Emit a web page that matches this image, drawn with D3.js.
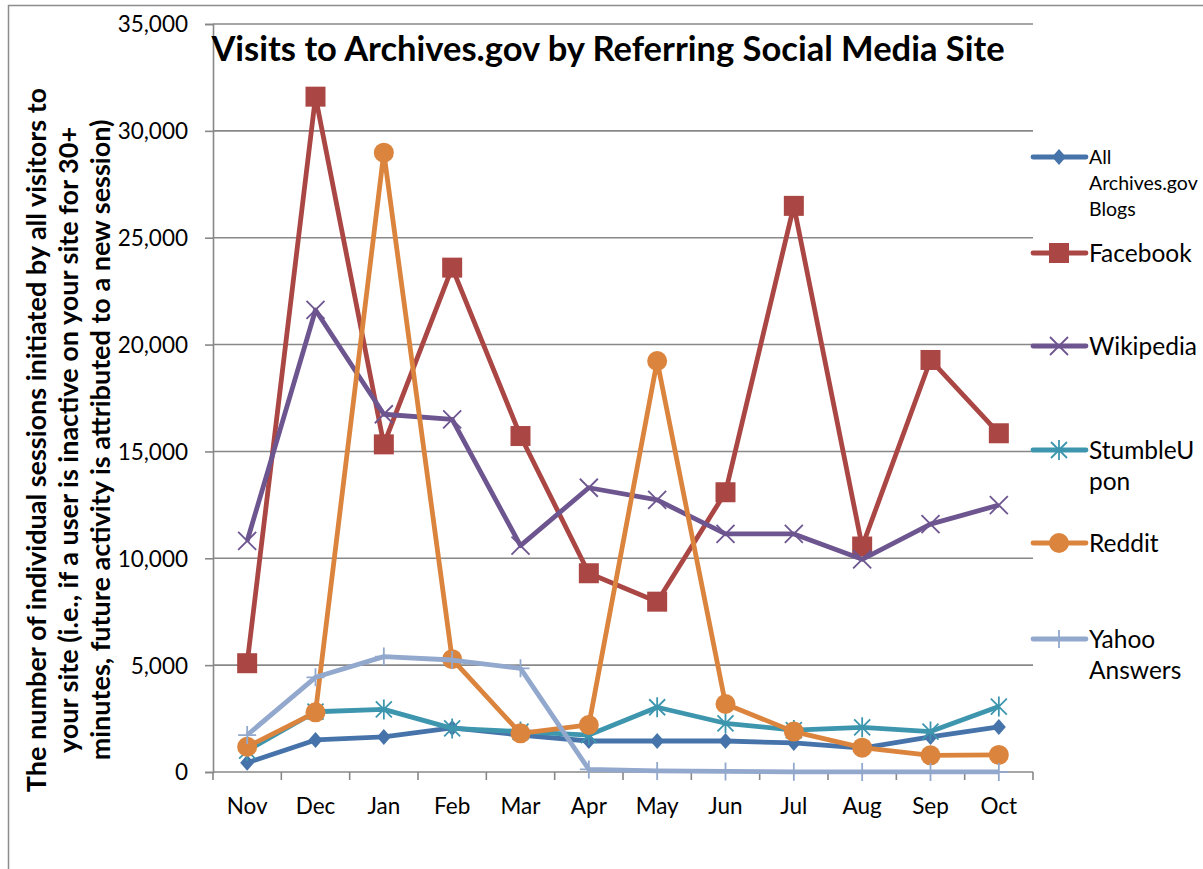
<!DOCTYPE html>
<html>
<head>
<meta charset="utf-8">
<script src="https://cdn.jsdelivr.net/npm/d3@7/dist/d3.min.js"></script>
<style>
  body { margin: 0; background: #fff; }
  text { font-family: Lato, "Open Sans", sans-serif; fill: #000; }
</style>
</head>
<body>
<script>
// data
var months = ["Nov", "Dec", "Jan", "Feb", "Mar", "Apr", "May", "Jun", "Jul", "Aug", "Sep", "Oct"];
var blogs = [435, 1500, 1640, 2060, 1730, 1450, 1450, 1450, 1360, 1120, 1640, 2110];
var facebook = [5090, 31600, 15330, 23600, 15720, 9300, 7970, 13090, 26490, 10550, 19280, 15850];
var wikipedia = [10810, 21620, 16740, 16500, 10590, 13300, 12730, 11140, 11140, 9950, 11600, 12490];
var stumbleupon = [1000, 2820, 2930, 2040, 1890, 1730, 3030, 2280, 1960, 2090, 1890, 3060];
var reddit = [1180, 2790, 28980, 5280, 1810, 2200, 19230, 3180, 1890, 1140, 780, 800];
var yahoo = [1730, 4430, 5400, 5240, 4850, 120, 50, 25, 10, 5, 5, 5];
var yTicks = [0, 5000, 10000, 15000, 20000, 25000, 30000, 35000];

var series = [
  {name: ["All", "Archives.gov", "Blogs"], values: blogs, color: "#4674AA", marker: "diamond", small: true},
  {name: ["Facebook"], values: facebook, color: "#AA4643", marker: "square"},
  {name: ["Wikipedia"], values: wikipedia, color: "#6D5590", marker: "x"},
  {name: ["StumbleU", "pon"], values: stumbleupon, color: "#3D96AE", marker: "star"},
  {name: ["Reddit"], values: reddit, color: "#DB843D", marker: "circle"},
  {name: ["Yahoo", "Answers"], values: yahoo, color: "#92A8CD", marker: "plus"}
];
var legendY = [157, 253, 346, 450, 543, 639];

var W = 1203, H = 869;
var plotLeft = 213, plotRight = 1033, plotTop = 24, plotBottom = 772;

var svg = d3.select("body").append("svg")
  .attr("width", W)
  .attr("height", H);

// chart area border (runs off the page right and bottom)
svg.append("rect")
  .attr("x", 8.5).attr("y", 5.5)
  .attr("width", 1400).attr("height", 1000)
  .attr("fill", "none")
  .attr("stroke", "#8c8c8c")
  .attr("stroke-width", 1.5);

var x = d3.scaleBand().domain(months).range([plotLeft, plotRight]);
var y = d3.scaleLinear().domain([0, 35000]).range([plotBottom, plotTop]);

// gridlines
svg.append("g").selectAll("line")
  .data(yTicks)
  .enter().append("line")
  .attr("x1", plotLeft).attr("x2", plotRight)
  .attr("y1", function(d) { return y(d); })
  .attr("y2", function(d) { return y(d); })
  .attr("stroke", "#888")
  .attr("stroke-width", 1.6);

// y axis
var yAxis = svg.append("g")
  .attr("transform", "translate(" + plotLeft + ",0)")
  .call(d3.axisLeft(y).tickValues(yTicks).tickFormat(d3.format(",")).tickSize(8).tickPadding(17));
yAxis.select(".domain").attr("stroke", "#888").attr("stroke-width", 1.6);
yAxis.selectAll(".tick line").attr("stroke", "#888").attr("stroke-width", 1.6);
yAxis.selectAll(".tick text")
  .attr("font-size", 22.5)
  .attr("font-family", "Lato")
  .attr("dy", "0.35em");

// x axis: ticks between categories
var bounds = months.map(function(m) { return x(m); }).concat([plotRight]);
svg.append("g").selectAll("line")
  .data(bounds)
  .enter().append("line")
  .attr("x1", function(d) { return d; })
  .attr("x2", function(d) { return d; })
  .attr("y1", plotBottom).attr("y2", plotBottom + 8)
  .attr("stroke", "#888")
  .attr("stroke-width", 1.6);

svg.append("g").selectAll("text")
  .data(months)
  .enter().append("text")
  .attr("x", function(d) { return x(d) + x.bandwidth() / 2; })
  .attr("y", 814)
  .attr("text-anchor", "middle")
  .attr("font-size", 22.5)
  .text(function(d) { return d; });

// marker shapes
function markerPath(type) {
  if (type === "diamond") return "M0,-8L7,0L0,8L-7,0Z";
  if (type === "square") return "M-10,-10H10V10H-10Z";
  if (type === "circle") return d3.symbol(d3.symbolCircle, Math.PI * 100)();
  if (type === "x") return "M-9,-9L9,9M-9,9L9,-9";
  if (type === "star") return "M-8,-8L8,8M-8,8L8,-8M0,-10V10";
  if (type === "plus") return "M-9,0H9M0,-9V9";
}
function drawMarker(g, s) {
  var filled = s.marker === "diamond" || s.marker === "square" || s.marker === "circle";
  g.append("path")
    .attr("d", markerPath(s.marker))
    .attr("fill", filled ? s.color : "none")
    .attr("stroke", s.color)
    .attr("stroke-width", filled ? 0 : 1.8);
}

var line = d3.line()
  .x(function(d, i) { return x(months[i]) + x.bandwidth() / 2; })
  .y(function(d) { return y(d); });

series.forEach(function(s) {
  var g = svg.append("g");
  g.append("path")
    .datum(s.values)
    .attr("d", line)
    .attr("fill", "none")
    .attr("stroke", s.color)
    .attr("stroke-width", 4.8)
    .attr("stroke-linejoin", "round");
  g.selectAll("g.pt")
    .data(s.values)
    .enter().append("g")
    .attr("class", "pt")
    .attr("transform", function(d, i) {
      return "translate(" + (x(months[i]) + x.bandwidth() / 2) + "," + y(d) + ")";
    })
    .each(function() { drawMarker(d3.select(this), s); });
});

// legend
series.forEach(function(s, i) {
  var ly = legendY[i];
  var g = svg.append("g");
  g.append("line")
    .attr("x1", 1033).attr("x2", 1086)
    .attr("y1", ly).attr("y2", ly)
    .attr("stroke", s.color)
    .attr("stroke-width", 4.8)
    .attr("stroke-linecap", "round");
  var m = g.append("g").attr("transform", "translate(1059," + ly + ")");
  drawMarker(m, s);
  var fs = s.small ? 19.5 : 24.5;
  var lh = s.small ? 26 : 31;
  s.name.forEach(function(t, k) {
    g.append("text")
      .attr("x", 1089)
      .attr("y", ly + k * lh)
      .attr("dy", "0.35em")
      .attr("font-size", fs)
      .text(t);
  });
});

// title
svg.append("text")
  .attr("x", 608)
  .attr("y", 61)
  .attr("text-anchor", "middle")
  .attr("font-size", 34.5)
  .attr("font-weight", "bold")
  .text("Visits to Archives.gov by Referring Social Media Site");

// y axis title
var yTitle = [
  "The number of individual sessions initiated by all visitors to",
  "your site (i.e., if a user is inactive on your site for 30+",
  "minutes, future activity is attributed to a new session)"
];
yTitle.forEach(function(t, k) {
  svg.append("text")
    .attr("transform", "translate(" + (46 + k * 32) + ",440) rotate(-90)")
    .attr("text-anchor", "middle")
    .attr("font-size", 27)
    .attr("font-weight", "bold")
    .text(t);
});
</script>
</body>
</html>
